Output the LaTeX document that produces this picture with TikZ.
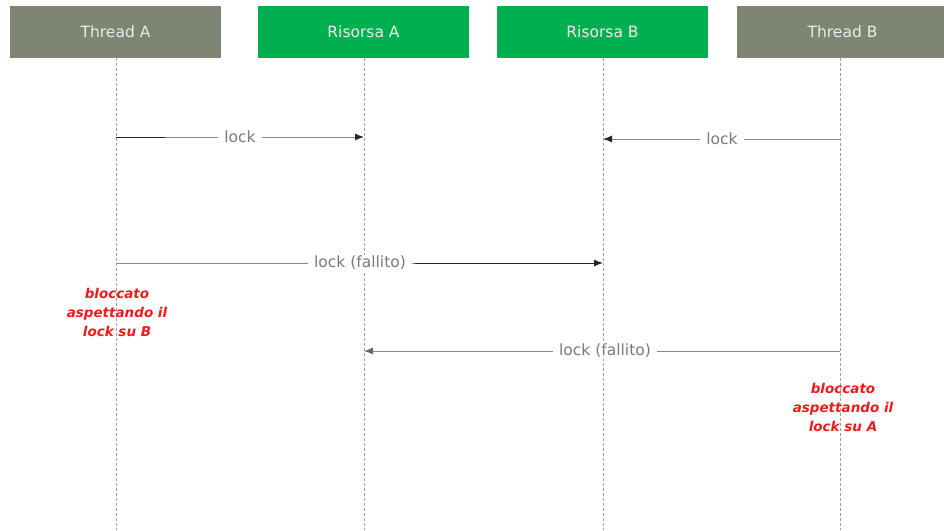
\documentclass[tikz,border=0pt]{standalone}
\usepackage{fontspec}
\setmainfont{DejaVu Sans}
\usetikzlibrary{arrows.meta}
\definecolor{thrgray}{HTML}{7E8572}
\definecolor{resgreen}{HTML}{00B050}
\definecolor{lblgray}{HTML}{7A7A7A}
\definecolor{linegray}{HTML}{8A8A8A}
\definecolor{lifegray}{HTML}{A0A0A0}
\definecolor{blockred}{HTML}{F01A1A}
\tikzset{
  actor/.style={draw=none, minimum width=211pt, minimum height=52pt, inner sep=0pt,
    text=white!92!black, font=\fontsize{15.5}{17}\selectfont},
  thr/.style={actor, fill=thrgray},
  res/.style={actor, fill=resgreen},
  lifeline/.style={draw=lifegray, line width=0.9pt, dash pattern=on 3pt off 2pt},
  msg/.style={draw=linegray, line width=1pt},
  msgtip/.style={-{Latex[length=9pt,width=7pt]}},
  darktip/.style={-{Latex[length=9pt,width=7pt,color=black!85]}},
  greytip/.style={-{Latex[length=9pt,width=7pt,color=black!60]}},
  msglbl/.style={fill=white, inner xsep=6pt, inner ysep=1pt, text=lblgray, font=\fontsize{15.5}{17}\selectfont},
  blocked/.style={text=blockred, font=\fontsize{13.5}{19}\selectfont\bfseries\itshape, align=center}
}
\begin{document}
\begin{tikzpicture}[x=1pt,y=-1pt]
\useasboundingbox[fill=white] (0,0) rectangle (944,530);
% actor boxes
\node[thr] (ta) at (115.5,32) {Thread A};
\node[res] (ra) at (363.5,32) {Risorsa A};
\node[res] (rb) at (602.5,32) {Risorsa B};
\node[thr] (tb) at (842.5,32) {Thread B};
% lifeline ends
\coordinate (taE) at (116,530);
\coordinate (raE) at (364,530);
\coordinate (rbE) at (603,530);
\coordinate (tbE) at (840,530);
\draw[lifeline] (116,58) -- (taE);
\draw[lifeline] (364,58) -- (raE);
\draw[lifeline] (603,58) -- (rbE);
\draw[lifeline] (840,58) -- (tbE);
% message points
\coordinate (m1s) at (116,137);
\coordinate (m1d) at (165,137);
\coordinate (m1e) at (364,137);
\coordinate (m2s) at (840,139);
\coordinate (m2e) at (603,139);
\coordinate (m3s) at (116,263);
\coordinate (m3d) at (415,263);
\coordinate (m3e) at (603,263);
\coordinate (m4s) at (840,351);
\coordinate (m4e) at (364,351);
% message 1
\draw[msg, darktip] (m1s) -- (m1e);
\draw[line width=1pt, draw=black!85] (m1s) -- (m1d);
\node[msglbl] (l1) at (240,137) {lock};
% message 2
\draw[msg, darktip] (m2s) -- (m2e);
\node[msglbl] (l2) at (722,139) {lock};
% message 3
\draw[msg] (m3s) -- (m3d);
\draw[line width=1pt, draw=black!85, darktip] (m3d) -- (m3e);
\node[msglbl] (l3) at (360,263) {lock (fallito)};
% message 4
\draw[msg, greytip] (m4s) -- (m4e);
\node[msglbl] (l4) at (605,351) {lock (fallito)};
% blocked notes
\node[blocked] (b1) at (117,312) {bloccato\\aspettando il\\lock su B};
\node[blocked] (b2) at (843,407) {bloccato\\aspettando il\\lock su A};
\end{tikzpicture}
\end{document}
